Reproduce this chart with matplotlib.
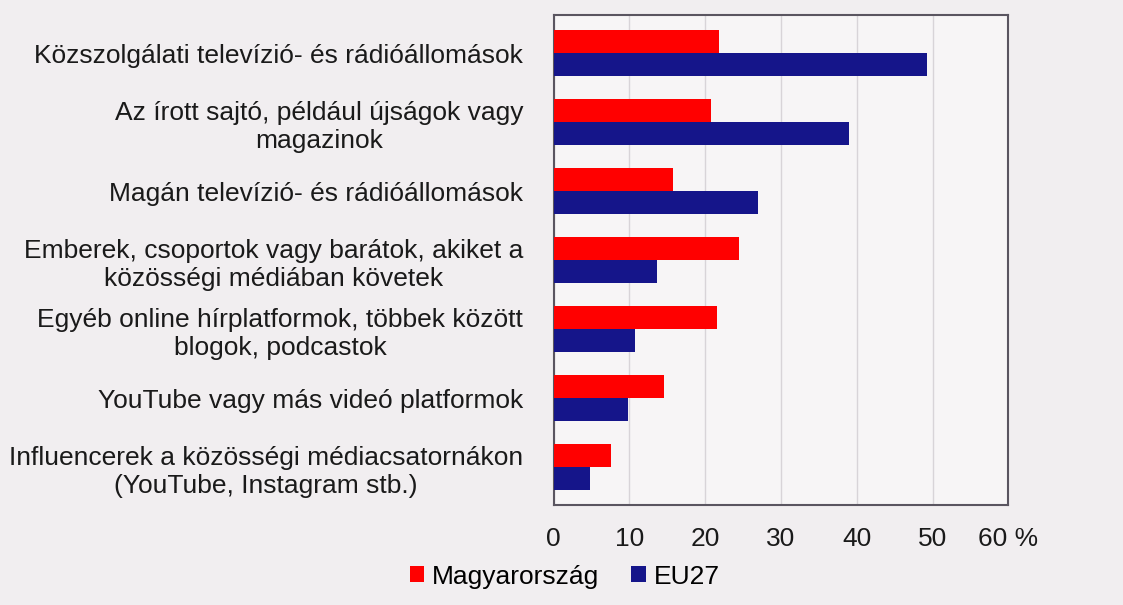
import matplotlib.pyplot as plt
import numpy as np

# kategoriak (felulrol lefele)
categories = [
    "Közszolgálati televízió- és rádióállomások",
    "Az írott sajtó, például újságok vagy\nmagazinok",
    "Magán televízió- és rádióállomások",
    "Emberek, csoportok vagy barátok, akiket a\nközösségi médiában követek",
    "Egyéb online hírplatformok, többek között\nblogok, podcastok",
    "YouTube vagy más videó platformok",
    "Influencerek a közösségi médiacsatornákon\n(YouTube, Instagram stb.)",
]
hu = [21.8, 20.8, 15.7, 24.4, 21.6, 14.6, 7.6]
eu = [49.3, 39.0, 26.9, 13.6, 10.7, 9.8, 4.8]
xticks = [0, 10, 20, 30, 40, 50, 60]
xticklabels = ["0", "10", "20", "30", "40", "50", "60 %"]

plt.rcParams['font.family'] = ['Liberation Sans', 'DejaVu Sans']

fig = plt.figure(figsize=(11.23, 6.05), dpi=100, facecolor="#f1eef0")
ax = fig.add_axes([0.493, 0.165, 0.405, 0.81], facecolor="#f7f5f6")

y = np.arange(len(categories))
h = 0.33
ax.barh(y - h / 2, hu, height=h, color="#ff0000", label="Magyarország", zorder=3)
ax.barh(y + h / 2, eu, height=h, color="#15158a", label="EU27", zorder=3)

ax.set_ylim(len(categories) - 0.45, -0.55)
ax.set_xlim(0, 60)
ax.set_yticks(y)
ax.set_yticklabels(categories, fontsize=19, multialignment="center", color="#1a1a1a",
                   linespacing=1.25)
ax.set_xticks(xticks)
ax.set_xticklabels(xticklabels, fontsize=19, color="#1a1a1a")
ax.tick_params(length=0)
ax.tick_params(axis="y", pad=22)
ax.tick_params(axis="x", pad=16)
ax.grid(axis="x", color="#d8d4d8", linewidth=1, zorder=0)
for s in ax.spines.values():
    s.set_color("#5a5560")
    s.set_linewidth(1.5)

fig.legend(loc="lower center", bbox_to_anchor=(0.503, -0.012), ncol=2, frameon=False,
           fontsize=19, handlelength=0.55, handleheight=0.55, handletextpad=0.3,
           columnspacing=1.2)

plt.savefig("out.png", dpi=100, facecolor=fig.get_facecolor())
